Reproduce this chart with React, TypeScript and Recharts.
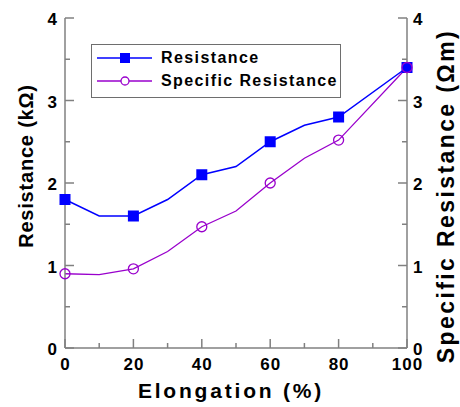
import React from "react";
import { LineChart, Line, XAxis, YAxis, Legend } from "recharts";

// values
const elongation = [0, 10, 20, 30, 40, 50, 60, 70, 80, 100];
const resistance = [1.8, 1.6, 1.6, 1.8, 2.1, 2.2, 2.5, 2.7, 2.8, 3.4];
const specificResistance = [0.9, 0.89, 0.96, 1.17, 1.47, 1.66, 2.0, 2.3, 2.52, 3.4];
const markedElongation = [0, 20, 40, 60, 80, 100];

const xTicks = [0, 10, 20, 30, 40, 50, 60, 70, 80, 90, 100];
const xLabels = [0, 20, 40, 60, 80, 100];
const yTicks = [0, 0.5, 1, 1.5, 2, 2.5, 3, 3.5, 4];
const yLabels = [0, 1, 2, 3, 4];

const data = elongation.map((e, i) => ({
  elongation: e,
  resistance: resistance[i],
  specific: specificResistance[i],
}));

const FONT = '"Liberation Sans", Arial, Helvetica, sans-serif';
const AXIS = "#808080";
const BLUE = "#0000ff";
const PURPLE = "#9900cc";

const MAJOR = 9;
const MINOR = 5;

const tickText = {
  fontFamily: FONT,
  fontSize: 17,
  fontWeight: 700,
  fill: "#000",
  letterSpacing: 1,
};

const BottomTick = (props: any) => {
  const { x, y, payload } = props;
  const major = xLabels.includes(payload.value);
  return (
    <g>
      <line x1={x} x2={x} y1={y} y2={y - (major ? MAJOR : MINOR)} stroke={AXIS} strokeWidth={1.5} />
      {major && (
        <text x={x + 0.5} y={y + 22} textAnchor="middle" {...tickText}>
          {payload.value}
        </text>
      )}
    </g>
  );
};

const TopTick = (props: any) => {
  const { x, y, payload } = props;
  const major = xLabels.includes(payload.value);
  return <line x1={x} x2={x} y1={y} y2={y + (major ? MAJOR : MINOR)} stroke={AXIS} strokeWidth={1.5} />;
};

const LeftTick = (props: any) => {
  const { x, y, payload } = props;
  const major = yLabels.includes(payload.value);
  return (
    <g>
      <line x1={x} x2={x + (major ? MAJOR : MINOR)} y1={y} y2={y} stroke={AXIS} strokeWidth={1.5} />
      {major && (
        <text x={x - 7} y={y + 7} textAnchor="end" {...tickText}>
          {payload.value}
        </text>
      )}
    </g>
  );
};

const RightTick = (props: any) => {
  const { x, y, payload } = props;
  const major = yLabels.includes(payload.value);
  return (
    <g>
      <line x1={x} x2={x - (major ? MAJOR : MINOR)} y1={y} y2={y} stroke={AXIS} strokeWidth={1.5} />
      {major && (
        <text x={x + 6} y={y + 7} textAnchor="start" {...tickText}>
          {payload.value}
        </text>
      )}
    </g>
  );
};

const titleText = { fontFamily: FONT, fontWeight: 700, fill: "#000" };

const BottomTitle = () => (
  <text x={231} y={398} textAnchor="middle" fontSize={21} letterSpacing={2.8} {...titleText}>
    Elongation (%)
  </text>
);

const LeftTitle = () => (
  <text
    x={33}
    y={166}
    transform="rotate(-90 33 166)"
    textAnchor="middle"
    fontSize={20}
    letterSpacing={0.8}
    {...titleText}
  >
    Resistance (kΩ)
  </text>
);

const RightTitle = () => (
  <text
    x={454}
    y={196}
    transform="rotate(-90 454 196)"
    textAnchor="middle"
    fontSize={23}
    letterSpacing={2.4}
    {...titleText}
  >
    Specific Resistance (Ωm)
  </text>
);

const SquareDot = (props: any) => {
  const { cx, cy, payload, index } = props;
  if (!markedElongation.includes(payload.elongation)) return <g key={`s${index}`} />;
  return <rect key={`s${index}`} x={cx - 5.5} y={cy - 5.5} width={11} height={11} fill={BLUE} />;
};

const CircleDot = (props: any) => {
  const { cx, cy, payload, index } = props;
  if (!markedElongation.includes(payload.elongation)) return <g key={`c${index}`} />;
  return <circle key={`c${index}`} cx={cx} cy={cy} r={5} fill="none" stroke={PURPLE} strokeWidth={1.3} />;
};

const LegendBox = (props: any) => {
  const { payload } = props;
  return (
    <div
      style={{
        width: 248,
        height: 51,
        border: "1.5px solid #6e6e6e",
        background: "#fff",
        boxSizing: "content-box",
        paddingTop: 1,
      }}
    >
      {(payload || []).map((entry: any) => {
        const square = entry.dataKey === "resistance";
        return (
          <div key={entry.value} style={{ display: "flex", alignItems: "center", height: 23 }}>
            <svg width={64} height={14} style={{ marginLeft: 5 }}>
              <line x1={0} x2={55} y1={7} y2={7} stroke={entry.color} strokeWidth={square ? 1.5 : 1.3} />
              {square ? (
                <rect x={23} y={2} width={10} height={10} fill={entry.color} />
              ) : (
                <circle cx={28} cy={7} r={4} fill="#fff" stroke={entry.color} strokeWidth={1.3} />
              )}
            </svg>
            <span
              style={{
                fontFamily: FONT,
                fontSize: 16,
                fontWeight: 700,
                letterSpacing: 1.4,
                color: "#000",
                lineHeight: "16px",
              }}
            >
              {entry.value}
            </span>
          </div>
        );
      })}
    </div>
  );
};

export default function App() {
  return (
    <div style={{ position: "absolute", left: 0, top: 0, background: "#fff" }}>
      <LineChart width={460} height={407} data={data} margin={{ top: 18, right: 0, bottom: 0, left: 0 }}>
        <XAxis
          dataKey="elongation"
          type="number"
          domain={[0, 100]}
          ticks={xTicks}
          interval={0}
          height={59}
          tickSize={0}
          tickMargin={0}
          tickLine={false}
          tick={BottomTick}
          axisLine={{ stroke: AXIS, strokeWidth: 1.5 }}
          label={BottomTitle}
        />
        <XAxis
          xAxisId="top"
          orientation="top"
          dataKey="elongation"
          type="number"
          domain={[0, 100]}
          allowDataOverflow
          ticks={xTicks}
          interval={0}
          height={0}
          tickSize={0}
          tickMargin={0}
          tickLine={false}
          tick={TopTick}
          axisLine={{ stroke: AXIS, strokeWidth: 1.5 }}
        />
        <YAxis
          yAxisId="left"
          type="number"
          domain={[0, 4]}
          ticks={yTicks}
          interval={0}
          width={65}
          tickSize={0}
          tickMargin={0}
          tickLine={false}
          tick={LeftTick}
          axisLine={{ stroke: AXIS, strokeWidth: 1.5 }}
          label={LeftTitle}
        />
        <YAxis
          yAxisId="right"
          orientation="right"
          type="number"
          domain={[0, 4]}
          ticks={yTicks}
          interval={0}
          width={53}
          tickSize={0}
          tickMargin={0}
          tickLine={false}
          tick={RightTick}
          axisLine={{ stroke: AXIS, strokeWidth: 1.5 }}
          label={RightTitle}
        />
        <Legend
          layout="vertical"
          align="center"
          verticalAlign="middle"
          content={LegendBox}
          wrapperStyle={{ position: "absolute", left: 91, top: 44, width: "auto" }}
        />
        <Line
          yAxisId="left"
          name="Resistance"
          dataKey="resistance"
          type="linear"
          stroke={BLUE}
          strokeWidth={1.5}
          dot={SquareDot}
          isAnimationActive={false}
        />
        <Line
          yAxisId="right"
          name="Specific Resistance"
          dataKey="specific"
          type="linear"
          stroke={PURPLE}
          strokeWidth={1.3}
          dot={CircleDot}
          isAnimationActive={false}
        />
      </LineChart>
    </div>
  );
}
